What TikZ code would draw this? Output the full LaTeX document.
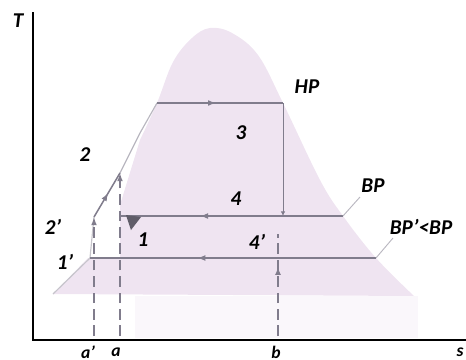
\documentclass[tikz,border=0pt]{standalone}
\usepackage{fontspec}
\setmainfont{Carlito}
\usetikzlibrary{arrows.meta, decorations.markings}

\definecolor{domefill}{RGB}{239,228,241}
\definecolor{procline}{RGB}{128,124,140}

\tikzset{
  lbl/.style={font=\fontsize{18}{20}\selectfont\bfseries\itshape, inner sep=0pt},
  axlbl/.style={font=\fontsize{15}{17}\selectfont\bfseries\itshape, inner sep=0pt},
  proc/.style={procline, line width=1.3pt},
  dashproc/.style={procline, line width=2pt, dash pattern=on 9pt off 5pt},
  midarrow/.style={postaction={decorate}, decoration={markings,
      mark=at position #1 with {\arrow{Latex[length=7pt,width=5pt]}}}},
}

\begin{document}
\begin{tikzpicture}[x=0.03cm, y=-0.03cm, >=Latex]
        \useasboundingbox (0,0) rectangle (466,360);

        % Miền hai pha (vòm)
        \fill[domefill!30] (135,296) rectangle (418,338);
        \fill[domefill] (53,294) -- (88,258) -- (120,258) -- (120,205)
            -- plot[smooth, tension=0.6] coordinates {(140,140) (157,103) (173,62)
            (192,38) (210,28) (232,33) (258,55) (283,103) (320,180) (343,216)
            (376,258) (414,296)} -- cycle;

        % Các điểm của chu trình
        \coordinate (p1) at (120,216);
        \coordinate (p2) at (120,173);
        \coordinate (p1s) at (90,258);
        \coordinate (p2s) at (94,217);
        \coordinate (p3) at (283,103);
        \coordinate (p4) at (283,216);
        \coordinate (p4s) at (278,258);
        \coordinate (hp) at (157,103);
        \coordinate (bp) at (343,216);
        \coordinate (bps) at (376,258);
        \coordinate (sa) at (120,336);
        \coordinate (sas) at (94,336);
        \coordinate (sb) at (278,336);
        \coordinate (sbt) at (278,234);

        % Đường lỏng bão hòa
        \draw[procline!45, line width=1pt] (53,294) -- (p1s) -- (p2s);
        \draw[procline!55, line width=1pt] (p2) -- (140,133) -- (hp);

        % Đường đẳng áp HP, BP, BP'
        \draw[proc, midarrow=0.47] (hp) -- (p3);
        \draw[proc] (p4) -- (bp);
        \draw[proc, midarrow=0.51] (p4) -- (p1);
        \draw[proc] (p4s) -- (bps);
        \draw[proc, midarrow=0.43] (p4s) -- (p1s);
        \draw[procline, line width=0.8pt, -{Latex[length=4pt,width=4pt]}] (p3) -- (p4);
        \draw[proc, midarrow=0.55] (p2s) -- (p2);
        \fill[procline!75!black] (126,215) -- (141,217) -- (131,230) -- cycle;

        % Đường gióng nét đứt
        \draw[dashproc, -{Latex[length=7pt,width=5pt]}] (sa) -- (p2);
        \draw[dashproc, -{Latex[length=7pt,width=5pt]}] (sas) -- (p2s);
        \draw[dashproc, midarrow=0.68] (sb) -- (sbt);

        % Đường chú thích
        \draw[procline!55, line width=0.8pt] (bp) -- (360,197);
        \draw[procline!55, line width=0.8pt] (bps) -- (393,238);

        % Hệ trục tọa độ
        \draw[line width=2.5pt] (33,12) -- (33,340) -- (466,340);

        % Nhãn
        \node[lbl] (lT) at (18,21) {T};
        \node[axlbl] (lS) at (460,352) {s};
        \node[axlbl] (lAs) at (88,352) {a'};
        \node[axlbl] (lA) at (116,352) {a};
        \node[axlbl] (lB) at (276,352) {b};
        \node[lbl] (l1) at (143,240) {1};
        \node[lbl] (l2) at (85,155) {2};
        \node[lbl] (l1s) at (65,262) {1'};
        \node[lbl] (l2s) at (53,227) {2'};
        \node[lbl] (l3) at (241,133) {3};
        \node[lbl] (l4) at (236,199) {4};
        \node[lbl] (l4s) at (257,242) {4'};
        \node[lbl] (lHP) at (307,87) {HP};
        \node[lbl] (lBP) at (373,186) {BP};
        \node[lbl] (lBPs) at (421,227) {BP'<BP};
\end{tikzpicture}
\end{document}
